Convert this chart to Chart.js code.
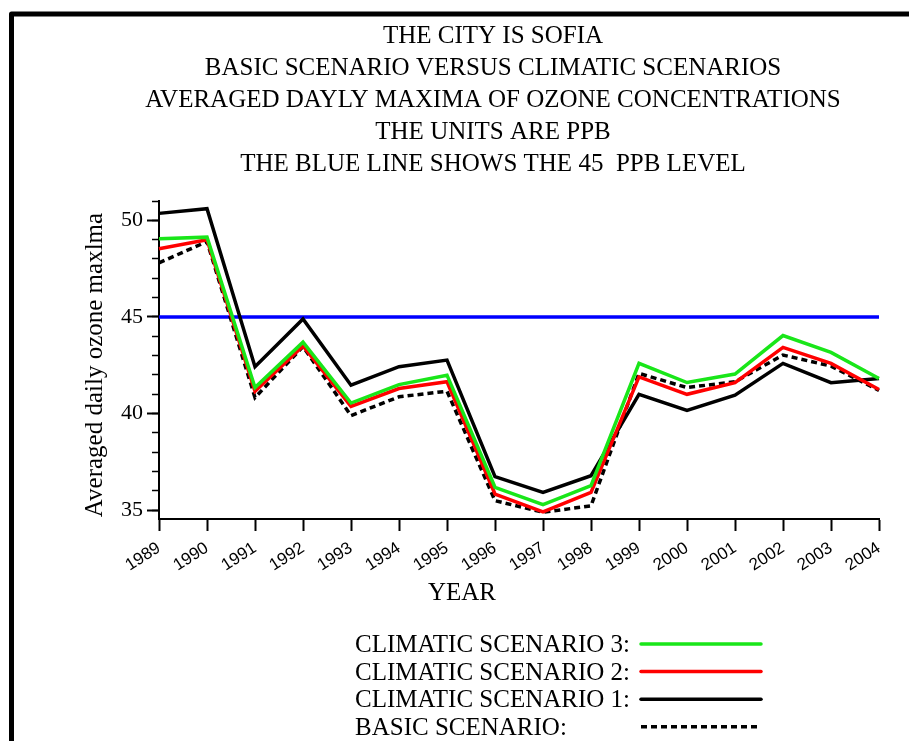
<!DOCTYPE html>
<html>
<head>
<meta charset="utf-8">
<script src="https://cdn.jsdelivr.net/npm/chart.js@4.4.1/dist/chart.umd.min.js"></script>
<style>
  html, body { margin: 0; padding: 0; background: #ffffff; }
  #wrap { width: 909px; height: 741px; position: relative; }
</style>
</head>
<body>
<div id="wrap"><canvas id="c" width="909" height="741"></canvas></div>
<script>
const years = ['1989','1990','1991','1992','1993','1994','1995','1996','1997','1998','1999','2000','2001','2002','2003','2004'];
const climatic3 = [49.05, 49.13, 41.35, 43.70, 40.55, 41.50, 41.99, 36.19, 35.29, 36.27, 42.60, 41.61, 42.05, 44.04, 43.17, 41.82];
const climatic2 = [48.53, 49.00, 41.16, 43.50, 40.38, 41.30, 41.65, 35.84, 34.92, 35.93, 41.90, 41.00, 41.60, 43.43, 42.60, 41.25];
const climatic1 = [50.36, 50.60, 42.43, 44.90, 41.47, 42.43, 42.77, 36.74, 35.93, 36.79, 41.00, 40.17, 40.95, 42.60, 41.60, 41.82];
const basic     = [47.80, 48.90, 40.83, 43.47, 39.90, 40.87, 41.16, 35.50, 34.90, 35.23, 42.08, 41.35, 41.65, 43.03, 42.46, 41.20];
const levelPPB = 45;
const yMajorTicks = [35, 40, 45, 50];
const yMinorTicks = [35, 36, 37, 38, 39, 40, 41, 42, 43, 44, 45, 46, 47, 48, 49, 50, 51];
const titleLines = [
  'THE CITY IS SOFIA',
  'BASIC SCENARIO VERSUS CLIMATIC SCENARIOS',
  'AVERAGED DAYLY MAXIMA OF OZONE CONCENTRATIONS',
  'THE UNITS ARE PPB',
  'THE BLUE LINE SHOWS THE 45  PPB LEVEL'
];
const yTitle = 'Averaged daily ozone maxlma';
const xTitle = 'YEAR';
const legendLabels = ['CLIMATIC SCENARIO 3:', 'CLIMATIC SCENARIO 2:', 'CLIMATIC SCENARIO 1:', 'BASIC SCENARIO:'];

const SERIF = '"Liberation Serif", "Times New Roman", serif';
const SANS = '"Liberation Sans", Arial, sans-serif';

const decorPlugin = {
  id: 'decor',
  beforeDraw(chart) {
    const ctx = chart.ctx;
    ctx.save();
    ctx.fillStyle = '#ffffff';
    ctx.fillRect(0, 0, chart.width, chart.height);
    ctx.restore();
  },
  afterDraw(chart) {
    const ctx = chart.ctx;
    ctx.save();
    // frame
    ctx.strokeStyle = '#000';
    ctx.lineWidth = 5;
    ctx.lineJoin = 'round';
    ctx.beginPath();
    ctx.moveTo(11.5, 760);
    ctx.lineTo(11.5, 14);
    ctx.lineTo(930, 14);
    ctx.stroke();
    // title
    ctx.fillStyle = '#000';
    ctx.font = '25px ' + SERIF;
    ctx.textAlign = 'center';
    ctx.textBaseline = 'alphabetic';
    titleLines.forEach((t, i) => ctx.fillText(t, 493, 43 + i * 32));
    // x title
    ctx.fillText(xTitle, 462, 600);
    // y title
    ctx.save();
    ctx.translate(95, 365);
    ctx.rotate(-Math.PI / 2);
    ctx.textBaseline = 'middle';
    ctx.fillText(yTitle, 0, 0);
    ctx.restore();
    // legend
    ctx.textAlign = 'left';
    ctx.textBaseline = 'alphabetic';
    for (let i = 0; i < legendLabels.length; i++) {
      const ds = chart.data.datasets[i];
      const y = 644 + i * 27.6;
      ctx.fillStyle = '#000';
      ctx.fillText(legendLabels[i], 355, y + 8);
      ctx.strokeStyle = ds.borderColor;
      ctx.lineWidth = ds.borderWidth;
      ctx.setLineDash(ds.borderDash || []);
      ctx.lineCap = ds.borderDash ? 'butt' : 'round';
      ctx.beginPath();
      ctx.moveTo(641, y);
      ctx.lineTo(761, y);
      ctx.stroke();
    }
    ctx.restore();
  }
};

new Chart(document.getElementById('c'), {
  type: 'line',
  data: {
    labels: years,
    datasets: [
      { label: 'CLIMATIC SCENARIO 3', data: climatic3, borderColor: '#19e619', borderWidth: 3.5 },
      { label: 'CLIMATIC SCENARIO 2', data: climatic2, borderColor: '#ff0000', borderWidth: 3.5 },
      { label: 'CLIMATIC SCENARIO 1', data: climatic1, borderColor: '#000000', borderWidth: 3.5 },
      { label: 'BASIC SCENARIO', data: basic, borderColor: '#000000', borderWidth: 3.5, borderDash: [6, 4] },
      { label: '45 PPB', data: years.map(() => levelPPB), borderColor: '#0000ff', borderWidth: 3.5 }
    ]
  },
  options: {
    responsive: false,
    animation: false,
    devicePixelRatio: 1,
    layout: { padding: { left: 0, top: 201, right: 30, bottom: 142 } },
    elements: { point: { radius: 0 }, line: { tension: 0, borderCapStyle: 'butt', borderJoinStyle: 'miter' } },
    plugins: { legend: { display: false }, title: { display: false }, tooltip: { enabled: false } },
    scales: {
      x: {
        type: 'category',
        offset: false,
        afterFit(s) { s.height = 80; },
        grid: { drawOnChartArea: false, drawTicks: true, tickLength: 12, tickWidth: 2, tickColor: '#000' },
        border: { display: true, color: '#000', width: 2 },
        ticks: { autoSkip: false, minRotation: 33, maxRotation: 33, padding: 7, color: '#000', font: { family: SANS, size: 17 } }
      },
      y: {
        type: 'linear',
        position: 'left',
        weight: 1,
        min: 34.55,
        max: 51,
        afterFit(s) { s.width = 159; },
        afterBuildTicks(s) { s.ticks = yMajorTicks.map(v => ({ value: v })); },
        grid: { drawOnChartArea: false, drawTicks: true, tickLength: 12, tickWidth: 2, tickColor: '#000' },
        border: { display: true, color: '#000', width: 2 },
        ticks: { padding: 4, color: '#000', font: { family: SERIF, size: 22 }, callback: v => String(v) }
      },
      yMinor: {
        type: 'linear',
        position: 'left',
        weight: 0,
        min: 34.55,
        max: 51,
        afterFit(s) { s.width = 0; },
        afterBuildTicks(s) { s.ticks = yMinorTicks.map(v => ({ value: v })); },
        grid: { drawOnChartArea: false, drawTicks: true, tickLength: 7, tickWidth: 1.5, tickColor: '#000' },
        border: { display: false },
        ticks: { display: false }
      }
    }
  },
  plugins: [decorPlugin]
});
</script>
</body>
</html>
